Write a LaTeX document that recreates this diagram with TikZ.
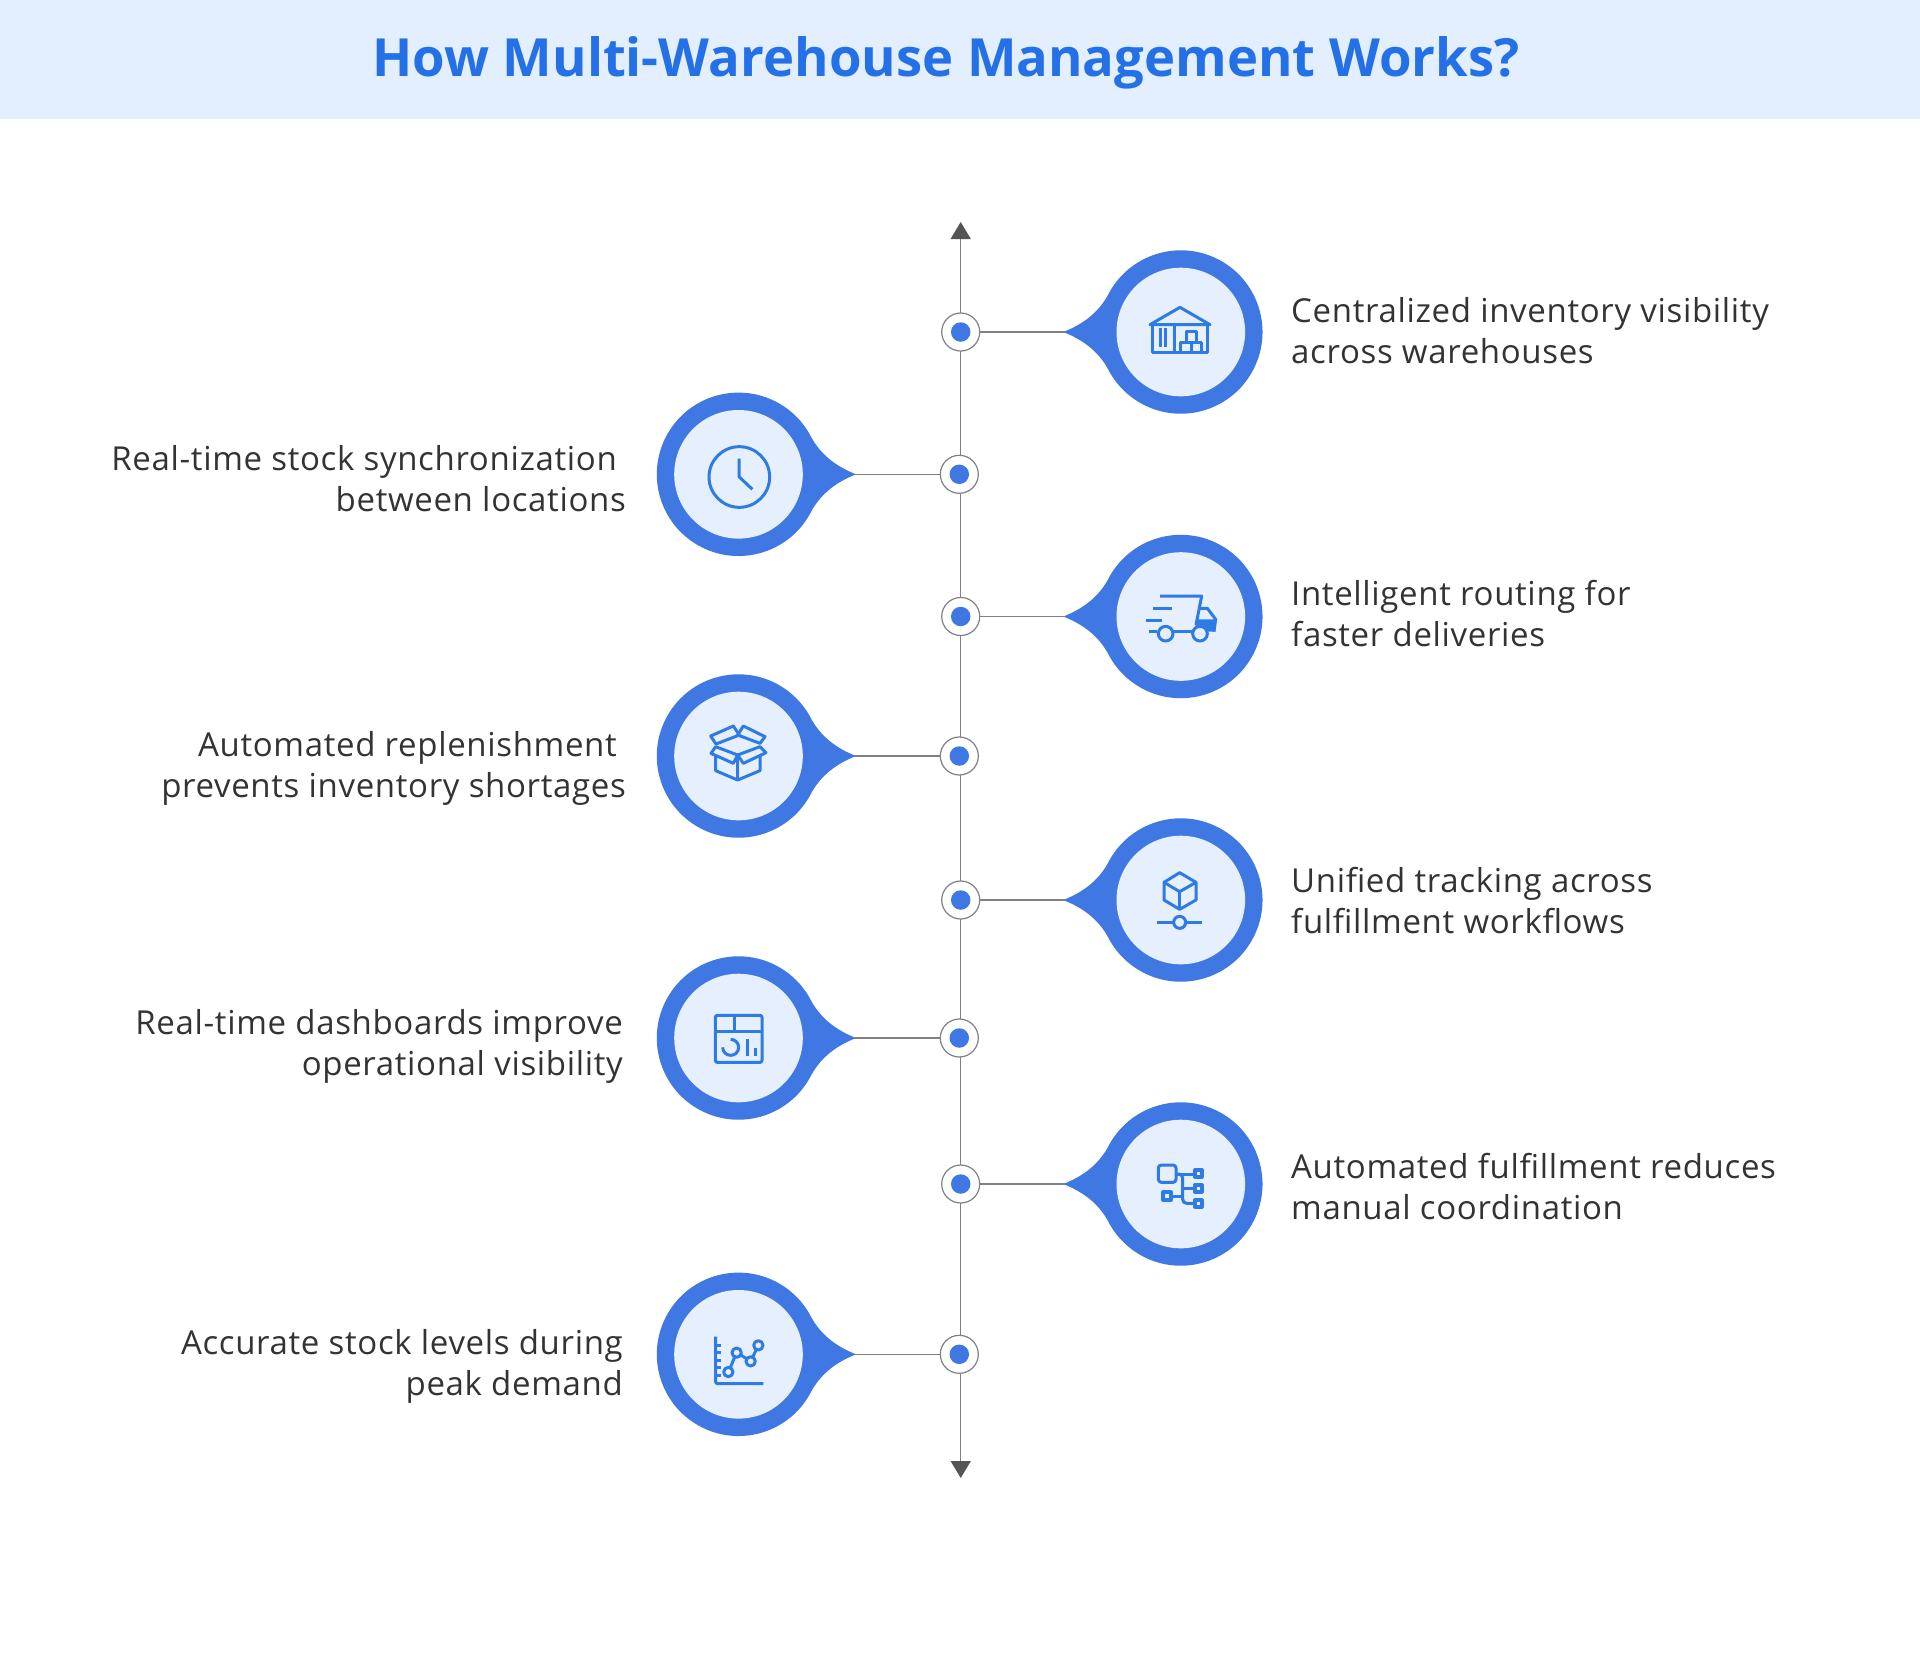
\documentclass[tikz,border=0pt]{standalone}
\usepackage{fontspec}
\setmainfont{Open Sans}
\usetikzlibrary{arrows.meta}

\definecolor{bandblue}{HTML}{E3EEFF}
\definecolor{titleblue}{HTML}{2470E6}
\definecolor{pinblue}{HTML}{3F78E3}
\definecolor{diskblue}{HTML}{E5EFFD}
\definecolor{iconblue}{HTML}{2F7BE6}
\definecolor{linegrey}{HTML}{808080}
\definecolor{tipgrey}{HTML}{555555}
\definecolor{textgrey}{HTML}{333333}

\tikzset{
  stepring/.style={circle, draw=linegrey, line width=1.2pt, fill=white, minimum size=38pt, inner sep=0pt},
  stepdot/.style={circle, fill=pinblue, minimum size=19.5pt, inner sep=0pt},
  stem/.style={draw=linegrey, line width=1.5pt},
  timeline/.style={draw=linegrey, line width=1.5pt, {Triangle[width=20pt,length=17pt,color=tipgrey]}-{Triangle[width=20pt,length=17pt,color=tipgrey]}},
  steptext/.style={text=textgrey, inner sep=0pt, font=\fontsize{33}{41}\selectfont\addfontfeatures{LetterSpace=2.0}},
  righttext/.style={steptext, anchor=west, align=left},
  lefttext/.style={steptext, anchor=east, align=right},
  icon/.style={draw=iconblue, line width=3pt, line join=round},
  droplet/.pic={
    \fill[pinblue] (-117.5,0) .. controls (-100,-7) and (-82,-18) .. (210:81.7)
      arc[start angle=210,end angle=510,radius=81.7]
      .. controls (-82,18) and (-100,7) .. (-117.5,0) -- cycle;
    \fill[diskblue] (0,0) circle (64.3);
    \coordinate (-tip) at (-115.8,0);
  }
}

\begin{document}
\begin{tikzpicture}[x=1pt,y=-1pt]
  \useasboundingbox (0,0) rectangle (1920,1674);
  \fill[bandblue] (0,0) rectangle (1920,118.8);
  \node [text=titleblue, inner sep=0pt, font=\fontsize{52.6}{60}\selectfont\bfseries] (title) at (946,63) {How Multi-Warehouse Management Works?};

  % timeline
  \coordinate (axistop) at (960.7,222);
  \coordinate (axisbot) at (960.7,1478);
  \draw [timeline] (axistop) -- (axisbot);

  \node [stepring] (ring1) at (960.7,332) {};
  \node [stepring] (ring2) at (959.3,474.3) {};
  \node [stepring] (ring3) at (960.7,616.5) {};
  \node [stepring] (ring4) at (959.3,756) {};
  \node [stepring] (ring5) at (960.7,900) {};
  \node [stepring] (ring6) at (959.3,1038) {};
  \node [stepring] (ring7) at (960.7,1184) {};
  \node [stepring] (ring8) at (959.3,1354.3) {};
  \node [stepdot] (dot1) at (ring1) {};
  \node [stepdot] (dot2) at (ring2) {};
  \node [stepdot] (dot3) at (ring3) {};
  \node [stepdot] (dot4) at (ring4) {};
  \node [stepdot] (dot5) at (ring5) {};
  \node [stepdot] (dot6) at (ring6) {};
  \node [stepdot] (dot7) at (ring7) {};
  \node [stepdot] (dot8) at (ring8) {};

  % pins
  \pic (pin1) at (1180.8,332) {droplet};
  \pic [rotate=180] (pin2) at (738.5,474.3) {droplet};
  \pic (pin3) at (1180.8,616.5) {droplet};
  \pic [rotate=180] (pin4) at (738.5,756) {droplet};
  \pic (pin5) at (1180.8,900) {droplet};
  \pic [rotate=180] (pin6) at (738.5,1038) {droplet};
  \pic (pin7) at (1180.8,1184) {droplet};
  \pic [rotate=180] (pin8) at (738.5,1354.3) {droplet};
  \draw [stem] (ring1) -- (pin1-tip);
  \draw [stem] (ring2) -- (pin2-tip);
  \draw [stem] (ring3) -- (pin3-tip);
  \draw [stem] (ring4) -- (pin4-tip);
  \draw [stem] (ring5) -- (pin5-tip);
  \draw [stem] (ring6) -- (pin6-tip);
  \draw [stem] (ring7) -- (pin7-tip);
  \draw [stem] (ring8) -- (pin8-tip);

  % labels
  \node [righttext] (label1) at (1291,331) {Centralized inventory visibility\\across warehouses};
  \node [lefttext] (label2) at (626,479) {Real-time stock synchronization\hspace*{9pt}\\between locations};
  \node [righttext] (label3) at (1291,614) {Intelligent routing for\\faster deliveries};
  \node [lefttext] (label4) at (626,768.5) {Automated replenishment\hspace*{9pt}\\prevents inventory shortages};
  \node [righttext] (label5) at (1291,901) {Unified tracking across\\fulfillment workflows};
  \node [lefttext] (label6) at (623,1046.5) {Real-time dashboards improve\\operational visibility};
  \node [righttext] (label7) at (1291,1187) {Automated fulfillment reduces\\manual coordination};
  \node [lefttext] (label8) at (623,1366) {Accurate stock levels during\\peak demand};

  % warehouse
  \begin{scope}[shift={(1060,230)},scale=1/3]
    \draw [icon] (270,284) -- (360,232) -- (450,284) -- cycle;
    \draw [icon] (276,284) rectangle (443,368);
    \draw [icon] (342,284) -- (342,368);
    \draw [icon] (300,295) -- (300,352);
    \draw [icon] (317,295) -- (317,352);
    \draw [icon] (360,338) rectangle (425,368);
    \draw [icon] (393,338) -- (393,368);
    \draw [icon] (378,305) rectangle (408,338);
  \end{scope}

  % clock
  \begin{scope}[shift={(640,380)},scale=1/3]
    \draw [icon] (298,291) circle (91);
    \draw [icon] (297,236) -- (297,290) -- (337,328);
  \end{scope}

  % truck
  \begin{scope}[shift={(1100,560)},scale=1/3]
    \fill [iconblue] (288,178) -- (347,178) -- (342,215) -- (285,215) -- cycle;
    \draw [icon] (180,108) -- (305,108) -- (288,195);
    \draw [icon] (160,145) -- (216,145);
    \draw [icon] (137,180) -- (185,180);
    \draw [icon] (148,215) -- (172,215);
    \draw [icon] (222,215) -- (280,215);
    \draw [icon] (297,145) -- (322,145) -- (347,178) -- (342,215);
    \draw [icon, fill=diskblue] (197,221) circle (22);
    \draw [icon, fill=diskblue] (300,221) circle (22);
  \end{scope}

  % box
  \begin{scope}[shift={(680,700)},scale=1/3]
    \draw [icon] (107,165) -- (107,212) -- (173,240) -- (240,212) -- (240,165);
    \draw [icon] (173,170) -- (173,240);
    \draw [icon] (107,140) -- (93,160) -- (160,190) -- (173,165) -- cycle;
    \draw [icon] (240,140) -- (258,158) -- (190,190) -- (173,165) -- cycle;
    \draw [icon] (92,108) -- (160,78) -- (178,105) -- (108,132) -- cycle;
    \draw [icon] (190,78) -- (255,110) -- (240,130) -- (173,105) -- cycle;
  \end{scope}

  % cube
  \begin{scope}[shift={(1130,850)},scale=1/3]
    \draw [icon] (149,68) -- (198,97) -- (198,150) -- (149,178) -- (102,150) -- (102,97) -- cycle;
    \draw [icon] (102,97) -- (149,125) -- (198,97);
    \draw [icon] (149,125) -- (149,178);
    \draw [icon] (82,217) -- (130,217);
    \draw [icon] (149,217) circle (18);
    \draw [icon] (168,217) -- (217,217);
  \end{scope}

  % dashboard
  \begin{scope}[shift={(690,1000)},scale=1/3]
    \draw [icon, rounded corners=2pt] (76,46) rectangle (216,187);
    \draw [icon] (76,93) -- (216,93);
    \draw [icon] (132,46) -- (132,93);
    \draw [icon] (122,118) arc[start angle=-90,end angle=180,radius=24];
    \draw [icon] (172,118) -- (172,168);
    \draw [icon] (195,143) -- (195,168);
  \end{scope}

  % flow
  \begin{scope}[shift={(1140,1150)},scale=1/3]
    \draw [icon, rounded corners=3pt] (55,45) rectangle (108,97);
    \draw [icon, line width=4pt] (165,60) rectangle (185,80);
    \draw [icon, line width=4pt] (165,105) rectangle (185,125);
    \draw [icon, line width=4pt] (165,150) rectangle (185,170);
    \draw [icon, line width=4pt] (70,127) rectangle (92,150);
    \draw [icon] (108,72) -- (165,72);
    \draw [icon, rounded corners=4pt] (110,72) -- (128,72) -- (128,160) -- (165,160);
    \draw [icon] (128,115) -- (165,115);
    \draw [icon] (92,140) -- (128,140);
  \end{scope}

  % chart
  \begin{scope}[shift={(700,1325)},scale=1/3]
    \draw [icon, rounded corners=2pt] (47,35) -- (47,176) -- (190,176);
    \draw [icon] (47,60) -- (62,60);
    \draw [icon] (47,83) -- (62,83);
    \draw [icon] (47,105) -- (62,105);
    \draw [icon] (47,128) -- (62,128);
    \draw [icon] (47,152) -- (62,152);
    \draw [icon] (85,141) circle (14);
    \draw [icon] (110,83) circle (14);
    \draw [icon] (152,109) circle (14);
    \draw [icon] (175,61) circle (14);
    \draw [icon] (91,128) -- (104,96);
    \draw [icon] (122,90) -- (140,101);
    \draw [icon] (158,96) -- (169,74);
  \end{scope}
\end{tikzpicture}
\end{document}
